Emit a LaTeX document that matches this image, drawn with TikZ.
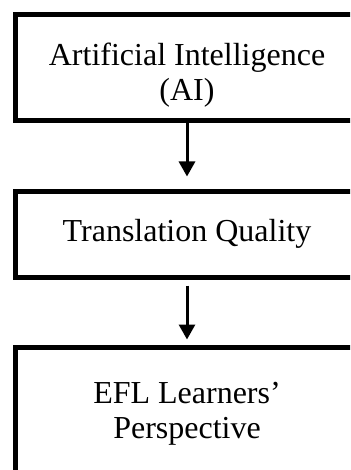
\documentclass[tikz,border=0pt]{standalone}
\usepackage{fontspec}
\setmainfont{Liberation Serif}
\usetikzlibrary{arrows.meta}
\begin{document}
\begin{tikzpicture}[x=1pt,y=1pt]
		\newcommand{\midx}{187} % centre line of the boxes
		\newcommand{\boxw}{343pt} % width of the boxes
		\newcommand{\lw}{5pt} % border of the boxes

		% set the style of the boxes and the arrows
		\tikzset{
			stage/.style={
				draw,
				line width=\lw,
				minimum width=\boxw,
				inner sep=0pt,
				align=center,
				font=\fontsize{32}{35}\selectfont
				},
			flow/.style={
				line width=3pt,
				-{Triangle[width=16pt,length=15pt]}
				}
		}
		\useasboundingbox (0,0) rectangle (350,-470);
		\clip (0,0) rectangle (350,-470);

		% boxes
		\node[stage, minimum height=106pt] (ai) at (\midx,-68) {\rule{0pt}{36pt}Artificial Intelligence\\(AI)};
		\node[stage, minimum height=86pt] (quality) at (\midx,-234) {Translation Quality};
		\node[stage, minimum height=134pt] (efl) at (\midx,-414) {EFL Learners'\\Perspective};

		% arrows
		\path[flow, shorten >=12pt] (ai.south) edge (quality.north);
		\path[flow, shorten <=6pt, shorten >=5pt] (quality.south) edge (efl.north);
\end{tikzpicture}
\end{document}
